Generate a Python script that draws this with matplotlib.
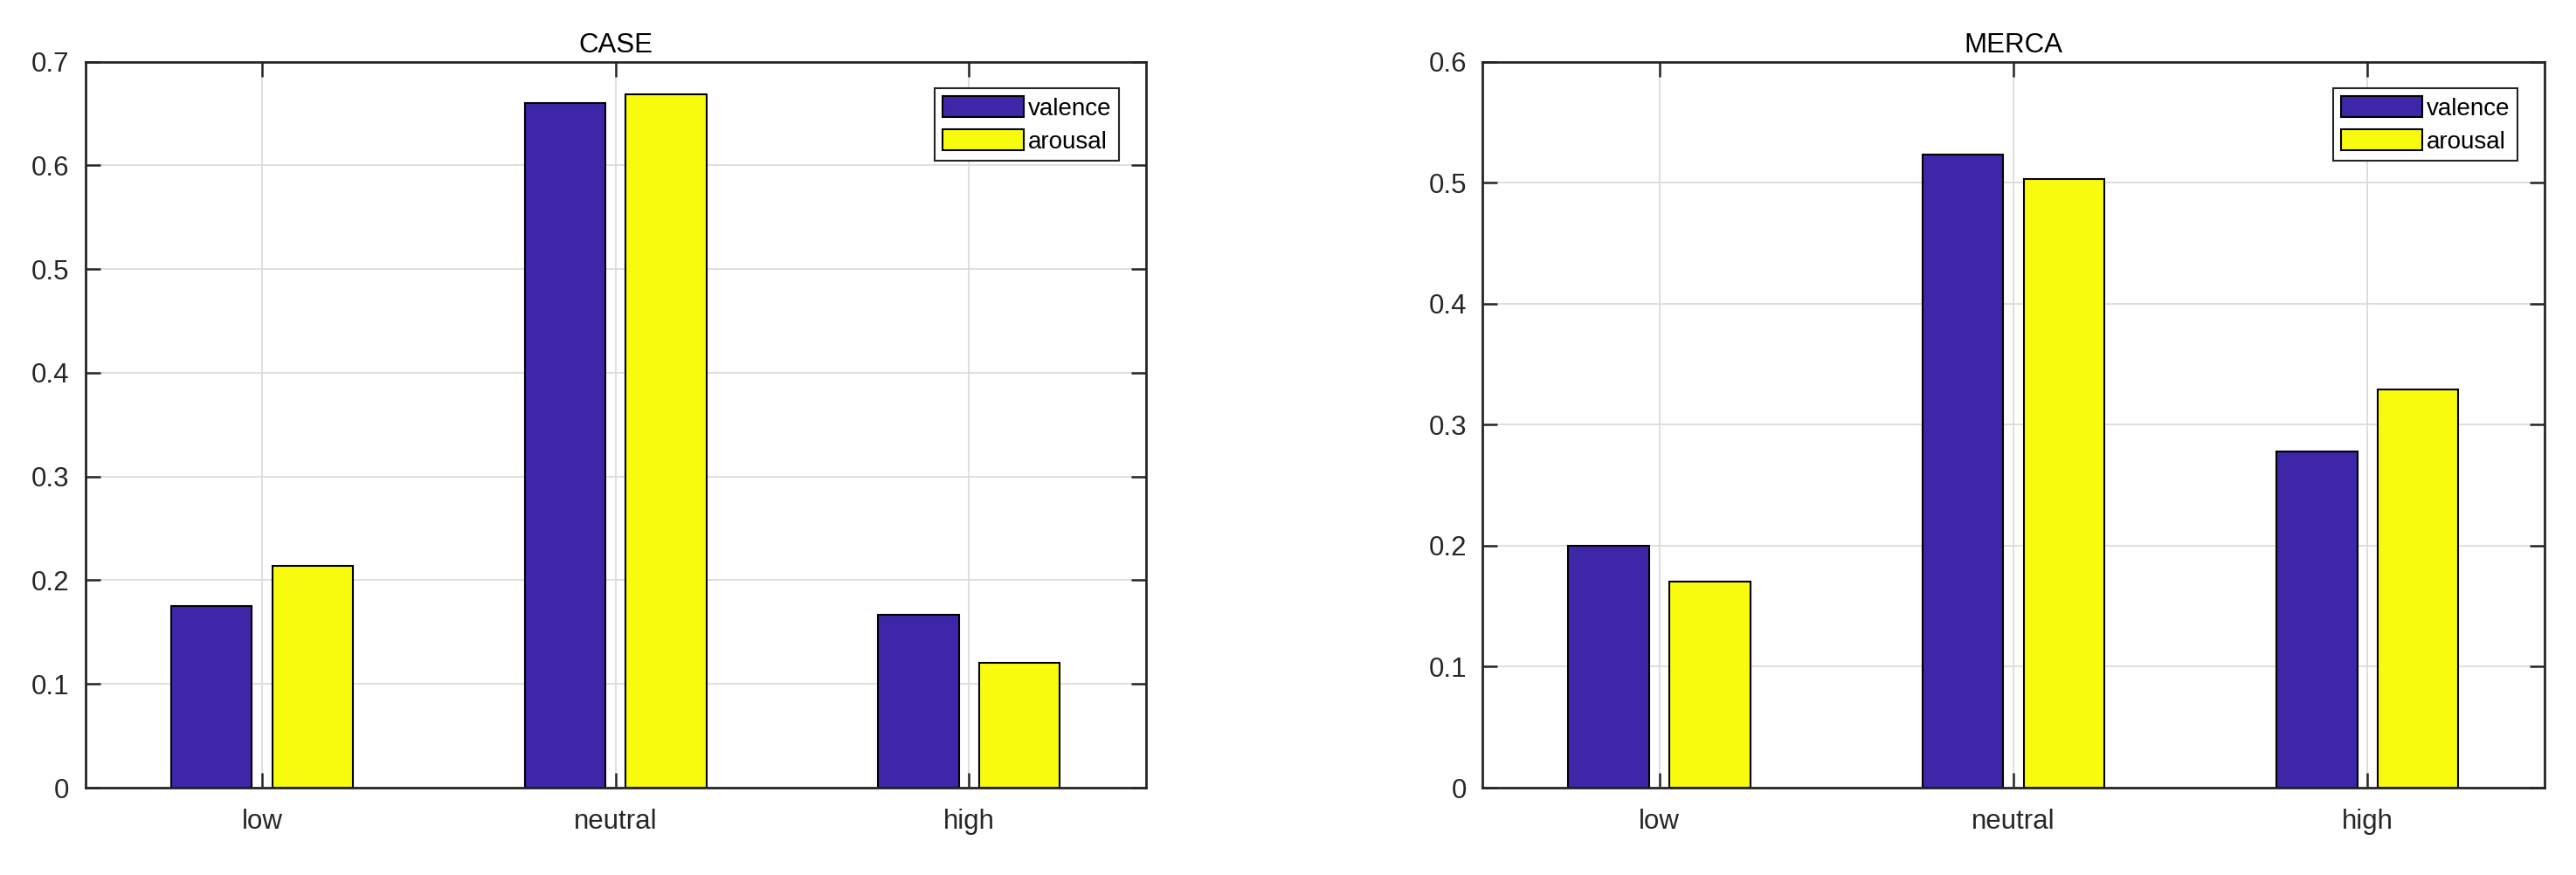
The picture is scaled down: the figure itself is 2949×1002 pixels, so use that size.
import numpy as np
import matplotlib
matplotlib.use("Agg")
import matplotlib.pyplot as plt
from matplotlib.ticker import FormatStrFormatter

categories = ["low", "neutral", "high"]
series_names = ["valence", "arousal"]

case_valence = [0.175, 0.660, 0.167]
case_arousal = [0.214, 0.669, 0.120]

merca_valence = [0.200, 0.523, 0.278]
merca_arousal = [0.170, 0.503, 0.329]

colors = ["#3E26A8", "#F9FB0E"]
axis_col = "#262626"

plt.rcParams['font.family'] = ['Liberation Sans', 'DejaVu Sans']

fig = plt.figure(figsize=(29.49, 10.02), dpi=100)

panels = [
    ("CASE", case_valence, case_arousal, 0.7, [0.0331, 0.0998, 0.4117, 0.8296]),
    ("MERCA", merca_valence, merca_arousal, 0.6, [0.5755, 0.0998, 0.4122, 0.8296]),
]

x = np.arange(1, len(categories) + 1)
bw = 0.2286
off = 0.143

for title, val, aro, ymax, pos in panels:
    ax = fig.add_axes(pos)
    ax.set_axisbelow(True)
    ax.bar(x - off, val, bw, color=colors[0], edgecolor="black", linewidth=1.5, label=series_names[0])
    ax.bar(x + off, aro, bw, color=colors[1], edgecolor="black", linewidth=1.5, label=series_names[1])
    ax.set_xlim(0.5, 3.5)
    ax.set_ylim(0, ymax)
    ax.set_xticks(x)
    ax.set_xticklabels(categories)
    ax.set_yticks(np.arange(0, ymax + 0.001, 0.1))
    ax.yaxis.set_major_formatter(FormatStrFormatter('%g'))
    ax.grid(True, color="#dcdcdc", linewidth=1.3)
    for s in ax.spines.values():
        s.set_color(axis_col)
        s.set_linewidth(2)
    ax.tick_params(direction="in", length=12, width=1.8, color=axis_col,
                   top=True, right=True, labelsize=22.5, labelcolor=axis_col)
    ax.tick_params(axis="x", pad=17)
    ax.tick_params(axis="y", pad=13)
    ax.set_title(title, fontsize=22.5, color="black", pad=8)
    leg = ax.legend(loc="upper right", fontsize=20, frameon=True, fancybox=False,
                    handlelength=3.35, handleheight=1.0, labelspacing=0.36,
                    handletextpad=0.2, borderpad=0.3, borderaxespad=1.1)
    leg.get_frame().set_edgecolor(axis_col)
    leg.get_frame().set_linewidth(1.5)
    leg.get_frame().set_alpha(1)

fig.savefig("out.png", dpi=100, facecolor="white")
